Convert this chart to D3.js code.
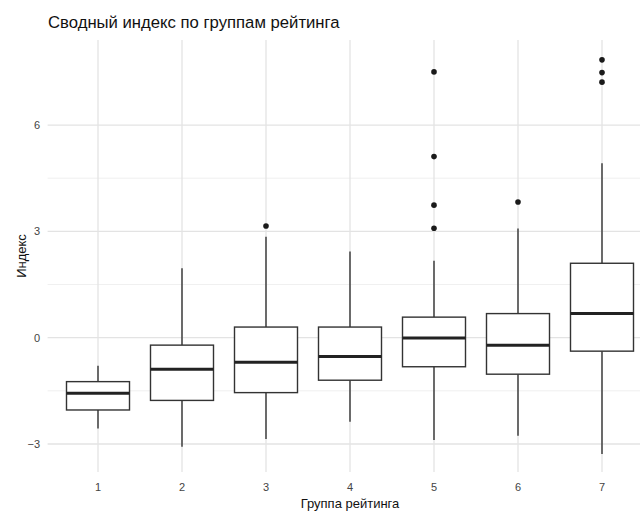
<!DOCTYPE html>
<html>
<head>
<meta charset="utf-8">
<script src="https://cdn.jsdelivr.net/npm/d3@7"></script>
<style>
  body { margin: 0; background: #fff; }
  svg { display: block; font-family: "Liberation Sans", Arial, sans-serif; }
</style>
</head>
<body>
<svg id="chart" width="640" height="512"></svg>
<script>
const groups = ["1", "2", "3", "4", "5", "6", "7"];
const whiskerLow = [-2.56, -3.08, -2.86, -2.37, -2.89, -2.77, -3.28];
const q1 = [-2.04, -1.77, -1.55, -1.20, -0.82, -1.03, -0.38];
const median = [-1.57, -0.89, -0.69, -0.53, -0.01, -0.21, 0.68];
const q3 = [-1.24, -0.21, 0.30, 0.30, 0.58, 0.68, 2.10];
const whiskerHigh = [-0.79, 1.96, 2.85, 2.43, 2.17, 3.08, 4.92];
const outliers = [[], [], [3.15], [], [7.50, 5.11, 3.74, 3.09], [3.83], [7.84, 7.48, 7.21]];
const yTicks = [-3, 0, 3, 6];
const yMinor = [-1.5, 1.5, 4.5];

const svg = d3.select("#chart");
const panel = { left: 47.6, right: 652.4, top: 40, bottom: 472 };

const x = d3.scalePoint().domain(groups)
  .range([panel.left, panel.right]).padding(0.6);
const step = x.step();
const y = d3.scaleLinear().domain([-3.79, 8.40]).range([panel.bottom, panel.top]);

const grid = svg.append("g");
grid.selectAll(".minor").data(yMinor).join("line")
  .attr("x1", panel.left).attr("x2", panel.right)
  .attr("y1", d => y(d)).attr("y2", d => y(d))
  .attr("stroke", "#ebebeb").attr("stroke-width", 0.8);
grid.selectAll(".major").data(yTicks).join("line")
  .attr("x1", panel.left).attr("x2", panel.right)
  .attr("y1", d => y(d)).attr("y2", d => y(d))
  .attr("stroke", "#e3e3e3").attr("stroke-width", 1.3);
grid.selectAll(".vx").data(groups).join("line")
  .attr("x1", d => x(d)).attr("x2", d => x(d))
  .attr("y1", panel.top).attr("y2", panel.bottom)
  .attr("stroke", "#e3e3e3").attr("stroke-width", 1.3);

const boxW = step * 0.75;
const data = groups.map((g, i) => ({
  g, lo: whiskerLow[i], q1: q1[i], med: median[i], q3: q3[i], hi: whiskerHigh[i], out: outliers[i]
}));

const bx = svg.append("g");
const col = "#333333";
bx.selectAll(".wl").data(data).join("line")
  .attr("x1", d => x(d.g)).attr("x2", d => x(d.g))
  .attr("y1", d => y(d.lo)).attr("y2", d => y(d.q1))
  .attr("stroke", col).attr("stroke-width", 1.4);
bx.selectAll(".wh").data(data).join("line")
  .attr("x1", d => x(d.g)).attr("x2", d => x(d.g))
  .attr("y1", d => y(d.q3)).attr("y2", d => y(d.hi))
  .attr("stroke", col).attr("stroke-width", 1.4);
bx.selectAll(".box").data(data).join("rect")
  .attr("x", d => x(d.g) - boxW / 2).attr("width", boxW)
  .attr("y", d => y(d.q3)).attr("height", d => y(d.q1) - y(d.q3))
  .attr("fill", "#fff").attr("stroke", col).attr("stroke-width", 1.4);
bx.selectAll(".med").data(data).join("line")
  .attr("x1", d => x(d.g) - boxW / 2).attr("x2", d => x(d.g) + boxW / 2)
  .attr("y1", d => y(d.med)).attr("y2", d => y(d.med))
  .attr("stroke", "#222").attr("stroke-width", 3);
bx.selectAll(".og").data(data).join("g").each(function(d) {
  d3.select(this).selectAll("circle").data(d.out).join("circle")
    .attr("cx", x(d.g)).attr("cy", v => y(v)).attr("r", 2.8).attr("fill", "#1a1a1a");
});

// axes labels
svg.append("g").selectAll("text").data(yTicks).join("text")
  .attr("x", 40).attr("y", d => y(d)).attr("dy", "0.35em")
  .attr("text-anchor", "end").attr("font-size", 11).attr("fill", "#444")
  .text(d => d3.format("")(d));
svg.append("g").selectAll("text").data(groups).join("text")
  .attr("x", d => x(d)).attr("y", 491)
  .attr("text-anchor", "middle").attr("font-size", 11).attr("fill", "#444")
  .text(d => d);

svg.append("text").attr("x", 350).attr("y", 508).attr("text-anchor", "middle")
  .attr("font-size", 13).attr("fill", "#111").text("Группа рейтинга");
svg.append("text").attr("transform", `translate(26,${(panel.top + panel.bottom) / 2}) rotate(-90)`)
  .attr("text-anchor", "middle").attr("font-size", 13).attr("fill", "#111").text("Индекс");
svg.append("text").attr("x", 48).attr("y", 28).attr("font-size", 16.7).attr("fill", "#111")
  .text("Сводный индекс по группам рейтинга");
</script>
</body>
</html>
